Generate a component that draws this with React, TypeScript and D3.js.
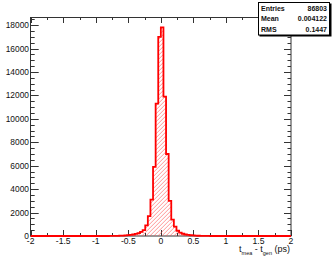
// App.tsx
import React, { useEffect, useRef } from 'react';
import * as d3 from 'd3';

// lower edges of the 0.04-wide bins that hold entries
const binLowEdges = [
  -0.8, -0.76, -0.72, -0.68, -0.64, -0.6, -0.56, -0.52, -0.48, -0.44,
  -0.4, -0.36, -0.32, -0.28, -0.24, -0.2, -0.16, -0.12, -0.08, -0.04,
  0.0, 0.04, 0.08, 0.12, 0.16, 0.2, 0.24, 0.28, 0.32, 0.36,
  0.4, 0.44, 0.48, 0.52, 0.56, 0.6, 0.64, 0.68, 0.72, 0.76,
];
const binCounts = [
  5, 8, 12, 18, 25, 35, 50, 70, 95, 130,
  180, 250, 350, 500, 900, 1700, 3100, 5900, 11300, 17000,
  17800, 11900, 7000, 3000, 1400, 800, 450, 280, 190, 130,
  90, 65, 45, 32, 22, 15, 10, 6, 4, 2,
];
const binWidth = 0.04;

const xTickValues = [-2, -1.75, -1.5, -1.25, -1, -0.75, -0.5, -0.25, 0, 0.25, 0.5, 0.75, 1, 1.25, 1.5, 1.75, 2];
const xTickLabels = ['-2', '-1.5', '-1', '-0.5', '0', '0.5', '1', '1.5', '2'];
const yTickLabels = [0, 2000, 4000, 6000, 8000, 10000, 12000, 14000, 16000, 18000];

const statLabels = ['Entries', 'Mean', 'RMS'];
const statValues = ['86803', '0.004122', '0.1447'];

const FONT = '"Liberation Sans", Arial, Helvetica, sans-serif';

const App = () => {
  const svgRef = useRef<SVGSVGElement>(null);

  useEffect(() => {
    const width = 333;
    const height = 258;
    const left = 30.7, right = 291, top = 17, bottom = 236;

    const svg = d3.select(svgRef.current);
    svg.selectAll('*').remove();
    svg.attr('width', width).attr('height', height);

    svg.append('rect').attr('width', width).attr('height', height).attr('fill', '#fff');

    const ymax = (d3.max(binCounts) as number) * 1.05;
    const x = d3.scaleLinear().domain([-2, 2]).range([left, right]);
    const y = d3.scaleLinear().domain([0, ymax]).range([bottom, top]);

    // frame
    svg.append('rect')
      .attr('x', 30.5).attr('y', 17.5)
      .attr('width', 260.5).attr('height', 218.5)
      .attr('fill', 'none')
      .attr('stroke', '#333')
      .attr('stroke-width', 1);

    const ticks = svg.append('g').attr('stroke', '#333').attr('stroke-width', 1);
    xTickValues.forEach((t, i) => {
      const len = i % 2 === 0 ? 6 : 3;
      const px = Math.round(x(t)) + 0.5;
      ticks.append('line').attr('x1', px).attr('x2', px).attr('y1', bottom).attr('y2', bottom - len);
      ticks.append('line').attr('x1', px).attr('x2', px).attr('y1', top).attr('y2', top + len);
    });
    d3.range(0, ymax, 500).forEach(v => {
      const major = v % 2000 === 0;
      const py = Math.round(y(v)) + 0.5;
      ticks.append('line').attr('x1', left).attr('x2', left + (major ? 8 : 4)).attr('y1', py).attr('y2', py);
      ticks.append('line').attr('x1', right).attr('x2', right - (major ? 7 : 3.5)).attr('y1', py).attr('y2', py);
    });

    // tick labels
    svg.append('g')
      .selectAll('text')
      .data(yTickLabels)
      .enter()
      .append('text')
      .attr('x', 29)
      .attr('y', v => y(v) + 3)
      .attr('text-anchor', 'end')
      .attr('font-family', FONT)
      .attr('font-size', 8.4)
      .attr('fill', '#111')
      .text(v => String(v));

    svg.append('g')
      .selectAll('text')
      .data(xTickLabels)
      .enter()
      .append('text')
      .attr('x', s => x(+s))
      .attr('y', 244)
      .attr('text-anchor', 'middle')
      .attr('font-family', FONT)
      .attr('font-size', 8.6)
      .attr('fill', '#111')
      .text(s => s);

    // axis title
    const title = svg.append('text')
      .attr('x', 290)
      .attr('y', 251.5)
      .attr('text-anchor', 'end')
      .attr('font-family', FONT)
      .attr('font-size', 9)
      .attr('fill', '#111');
    title.append('tspan').text('t');
    title.append('tspan').attr('font-size', 5.5).attr('dy', 3).text('mea');
    title.append('tspan').attr('dy', -3).text(' - t');
    title.append('tspan').attr('font-size', 5.5).attr('dy', 3).text('gen');
    title.append('tspan').attr('dy', -3).text(' (ps)');

    // histogram: full range including empty bins
    const pts: [number, number][] = [[-2, 0]];
    binLowEdges.forEach((e, i) => pts.push([e, binCounts[i]]));
    const lastEdge = binLowEdges[binLowEdges.length - 1] + binWidth;
    pts.push([lastEdge, 0]);
    pts.push([2, 0]);

    const area = d3.area<[number, number]>()
      .x(d => x(d[0]))
      .y0(y(0))
      .y1(d => y(d[1]))
      .curve(d3.curveStepAfter);
    const line = d3.line<[number, number]>()
      .x(d => x(d[0]))
      .y(d => y(d[1]))
      .curve(d3.curveStepAfter);

    // hatch fill: "/" red lines clipped to the histogram area
    svg.append('clipPath').attr('id', 'histclip')
      .append('path').attr('d', area(pts));
    const hatch = svg.append('g').attr('clip-path', 'url(#histclip)');
    const span = bottom - top;
    const hx0 = x(binLowEdges[0]) - span - 4;
    const hx1 = x(lastEdge) + 4;
    for (let k = hx0; k < hx1; k += 4) {
      hatch.append('line')
        .attr('x1', k).attr('y1', bottom)
        .attr('x2', k + span).attr('y2', top)
        .attr('stroke', '#ff5050')
        .attr('stroke-width', 0.6);
    }

    svg.append('path')
      .attr('d', line(pts))
      .attr('fill', 'none')
      .attr('stroke', '#ff0000')
      .attr('stroke-width', 1.8);

    // stats box
    const box = svg.append('g');
    box.append('rect')
      .attr('x', 259.5).attr('y', 3.5)
      .attr('width', 72).attr('height', 33)
      .attr('fill', '#000');
    box.append('rect')
      .attr('x', 258.5).attr('y', 2.5)
      .attr('width', 71).attr('height', 32.5)
      .attr('fill', '#fff')
      .attr('stroke', '#000')
      .attr('stroke-width', 1);
    statLabels.forEach((s, i) => {
      box.append('text')
        .attr('x', 261).attr('y', 10.6 + i * 10.8)
        .attr('font-family', FONT).attr('font-size', 7).attr('font-weight', 'bold')
        .attr('fill', '#111')
        .text(s);
      box.append('text')
        .attr('x', 327).attr('y', 10.6 + i * 10.8)
        .attr('text-anchor', 'end')
        .attr('font-family', FONT).attr('font-size', 7).attr('font-weight', 'bold')
        .attr('fill', '#111')
        .text(statValues[i]);
    });
  }, []);

  return <svg ref={svgRef} style={{ position: 'absolute', left: 0, top: 0 }}></svg>;
};

export default App;
